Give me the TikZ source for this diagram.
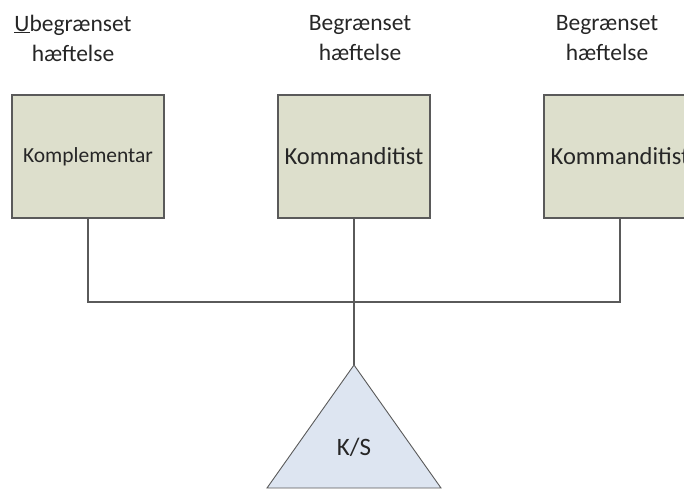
\documentclass[tikz,border=0pt]{standalone}
\usepackage{fontspec}
\setmainfont{Carlito}
\definecolor{boxfill}{RGB}{221,223,204}
\definecolor{trifill}{RGB}{221,229,241}
\definecolor{edge}{RGB}{90,90,90}
\begin{document}
\begin{tikzpicture}[x=1pt,y=-1pt,
  boxnode/.style={draw=edge,line width=1.1pt,fill=boxfill,minimum width=152pt,minimum height=123pt,inner sep=0pt},
  toplabel/.style={align=center,font=\fontsize{23.5}{30}\selectfont,text=black!85},
  conn/.style={draw=edge,line width=1.1pt}]
\useasboundingbox (0,0) rectangle (684,488);
\clip (0,0) rectangle (684,488);
\node[toplabel] (l1) at (73,38) {\underline{U}begrænset\\hæftelse};
\node[toplabel] (l2) at (360,38) {Begrænset\\hæftelse};
\node[toplabel] (l3) at (607,38) {Begrænset\\hæftelse};
\node[boxnode,font=\fontsize{21.5}{25}\selectfont,text=black!85] (b1) at (88,156.5) {Komplementar};
\node[boxnode,font=\fontsize{24.5}{29}\selectfont,text=black!85] (b2) at (354,156.5) {Kommanditist};
\node[boxnode,font=\fontsize{24.5}{29}\selectfont,text=black!85] (b3) at (620,156.5) {Kommanditist};
\coordinate (j) at (354,302);
\coordinate (apex) at (354,365);
\fill[trifill,draw=edge,line width=0.9pt] (apex) -- (267,488) -- (441,488) -- cycle;
\node[font=\fontsize{25}{29}\selectfont,text=black!85] (ks) at (354,447) {K/S};
\draw[conn] (b1.south) |- (b3.south |- j) -- (b3.south);
\draw[conn] (b2.south) -- (apex);
\end{tikzpicture}
\end{document}
